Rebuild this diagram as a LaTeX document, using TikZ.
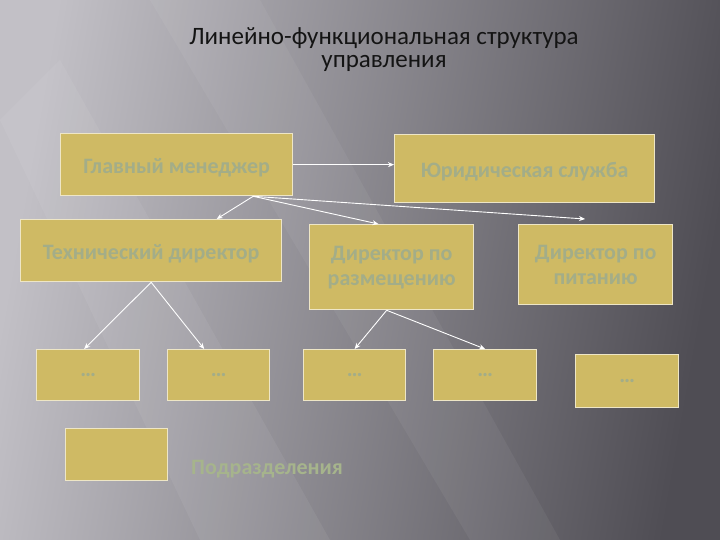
\documentclass[tikz,border=0pt]{standalone}
\usepackage{fontspec}
\setmainfont{Carlito}
\usetikzlibrary{arrows.meta,calc}
\definecolor{boxfill}{HTML}{CFBA64}
\definecolor{boxline}{HTML}{EEE6C6}
\definecolor{boxtext}{HTML}{A3AD88}
\definecolor{legtext}{HTML}{A6B48C}
\definecolor{bglight}{HTML}{C2C0C6}
\definecolor{bgmid}{HTML}{858389}
\definecolor{bgdark}{HTML}{4F4D54}
\begin{document}
\begin{tikzpicture}[x=1pt,y=-1pt,
  unit/.style={draw=boxline,line width=1.3pt,fill=boxfill,anchor=north west,inner sep=0pt,
    text=boxtext,font=\bfseries\fontsize{22}{25}\selectfont,align=center},
  oneline/.style={text height=18pt,text depth=0pt},
  dots/.style={unit,font=\bfseries\fontsize{22}{25}\selectfont},
  link/.style={draw=white,line width=0.9pt,-{Stealth[length=6pt,width=5pt]}}]
\useasboundingbox (0,0) rectangle (720,540);
\shade[left color=bglight,middle color=bgmid,right color=bgdark,shading angle=80] (0,0) rectangle (720,540);
\fill[white,opacity=0.06] (0,120) -- (60,60) -- (330,540) -- (200,540) -- cycle;
\fill[white,opacity=0.05] (150,0) -- (260,0) -- (560,540) -- (470,540) -- cycle;
% title
\node[font=\fontsize{25}{23}\selectfont,text=black!92,align=center] (title) at (384,50)
  {Линейно-функциональная структура\\управления};
% boxes
\node[unit,oneline,minimum width=232pt,minimum height=62pt] (gm) at (60,133) {Главный менеджер};
\node[unit,oneline,minimum width=260pt,minimum height=68pt] (yur) at (394,134) {Юридическая служба};
\node[unit,oneline,minimum width=261pt,minimum height=62pt] (tech) at (20,219) {Технический директор};
\node[unit,minimum width=164pt,minimum height=85pt] (razm) at (309,224) {Директор по\\размещению};
\node[unit,minimum width=154pt,minimum height=80pt] (pit) at (518,224) {Директор по\\питанию};
\node[dots,minimum width=103pt,minimum height=51pt] (b1) at (36,349) {\dots};
\node[dots,minimum width=102pt,minimum height=51pt] (b2) at (167,349) {\dots};
\node[dots,minimum width=102pt,minimum height=51pt] (b3) at (303,349) {\dots};
\node[dots,minimum width=103pt,minimum height=51pt] (b4) at (433,349) {\dots};
\node[dots,minimum width=103pt,minimum height=53pt] (b5) at (575,354) {\dots};
\node[unit,minimum width=102pt,minimum height=52pt] (leg) at (65,428) {};
\node[font=\bfseries\fontsize{22}{24}\selectfont,text=legtext,anchor=west,inner sep=0pt] (legt) at (191,469) {Подразделения};
% connectors
\coordinate (gmb) at ($(gm.south west)!0.828!(gm.south east)$);
\coordinate (pittop) at ($(pit.north west)+(67,-5)$);
\draw[link] (gm.east) -- (gm.east -| yur.west);
\draw[link] (gmb) -- ($(tech.north west)!0.75!(tech.north east)$);
\draw[link] (gmb) -- ($(razm.north west)!0.42!(razm.north east)$);
\draw[link] (gmb) -- (pittop);
\draw[link] (tech.south) -- ($(b1.north)+(-4,0)$);
\draw[link] (tech.south) -- ($(b2.north west)!0.36!(b2.north east)$);
\coordinate (rzb) at ($(razm.south west)!0.47!(razm.south east)$);
\draw[link] (rzb) -- (b3.north);
\draw[link] (rzb) -- (b4.north);
\end{tikzpicture}
\end{document}
